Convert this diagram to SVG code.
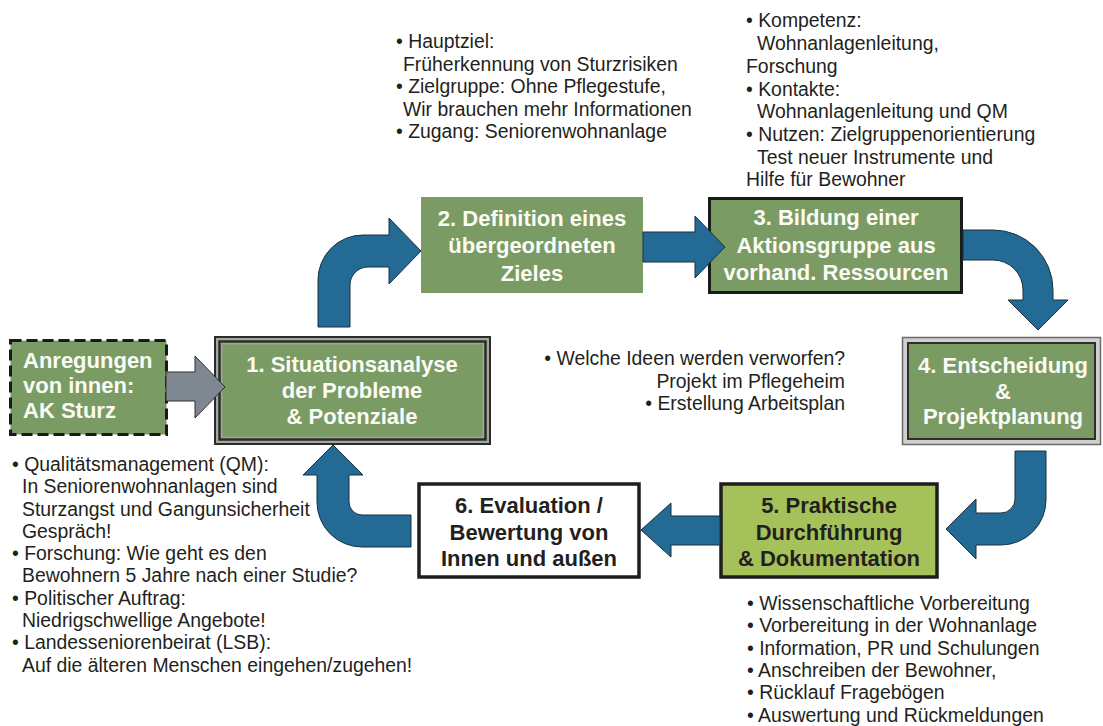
<svg xmlns="http://www.w3.org/2000/svg" width="1103" height="726" viewBox="0 0 1103 726">
  <style>
    .green { fill: #7b9b65; }
    .title { font-family: "Liberation Sans", Arial, sans-serif; font-weight: bold; font-size: 22px; text-anchor: middle; }
    .light { fill: #fbfbf6; }
    .dark { fill: #231f20; }
    .note { font-family: "Liberation Sans", Arial, sans-serif; font-size: 19.4px; fill: #231f20; }
    .flow { fill: #236b95; stroke: #1b3140; stroke-width: 1; stroke-linejoin: miter; }
    .feed { fill: #7f8890; stroke: #2f2f2f; stroke-width: 1; }
  </style>
  <rect width="1103" height="726" fill="#ffffff"/>

  <!-- External input -->
  <g id="node-anregungen">
    <rect x="10.5" y="340.5" width="156" height="94" class="green" stroke="#1a1a1a" stroke-width="3" stroke-dasharray="11 5"/>
    <text class="title light" style="text-anchor:start"><tspan x="23" y="368">Anregungen</tspan><tspan x="23" y="393">von innen:</tspan><tspan x="23" y="418">AK Sturz</tspan></text>
  </g>

  <!-- Step 1: compound frame -->
  <g id="node-1">
    <rect x="215" y="337" width="275" height="107" fill="#a3a89d" stroke="#2b2b2b" stroke-width="2"/>
    <rect x="219.5" y="341.5" width="266" height="98" fill="none" stroke="#2b2b2b" stroke-width="2.5"/>
    <rect x="222" y="344" width="261" height="93" class="green" stroke="#9aa58e" stroke-width="1"/>
    <text class="title light"><tspan x="352" y="372">1. Situationsanalyse</tspan><tspan x="352" y="398">der Probleme</tspan><tspan x="352" y="424">&amp; Potenziale</tspan></text>
  </g>

  <!-- Step 2 -->
  <g id="node-2">
    <rect x="421" y="197" width="222" height="96" class="green"/>
    <text class="title light"><tspan x="532" y="226">2. Definition eines</tspan><tspan x="532" y="253">übergeordneten</tspan><tspan x="532" y="281">Zieles</tspan></text>
  </g>

  <!-- Step 3 -->
  <g id="node-3">
    <rect x="709.5" y="198.5" width="252" height="94" class="green" stroke="#1a1a1a" stroke-width="3"/>
    <text class="title light"><tspan x="836" y="225">3. Bildung einer</tspan><tspan x="836" y="253">Aktionsgruppe aus</tspan><tspan x="836" y="280">vorhand. Ressourcen</tspan></text>
  </g>

  <!-- Step 4: grey double frame -->
  <g id="node-4">
    <rect x="902.5" y="337.5" width="198" height="107" fill="#cfcfcf" stroke="#6a6a6a" stroke-width="1.5"/>
    <rect x="908" y="343" width="187" height="96" class="green" stroke="#2e2e2e" stroke-width="2"/>
    <text class="title light"><tspan x="1003" y="373">4. Entscheidung</tspan><tspan x="1003" y="399">&amp;</tspan><tspan x="1003" y="424">Projektplanung</tspan></text>
  </g>

  <!-- Step 5 -->
  <g id="node-5">
    <rect x="721" y="484" width="216" height="93" fill="#a5c25a" stroke="#1e1e1e" stroke-width="3.5"/>
    <text class="title dark"><tspan x="829" y="513">5. Praktische</tspan><tspan x="829" y="540">Durchführung</tspan><tspan x="829" y="566">&amp; Dokumentation</tspan></text>
  </g>

  <!-- Step 6 -->
  <g id="node-6">
    <rect x="419" y="484" width="220" height="93" fill="#ffffff" stroke="#1e1e1e" stroke-width="3.5"/>
    <text class="title dark"><tspan x="529" y="513">6. Evaluation /</tspan><tspan x="529" y="540">Bewertung von</tspan><tspan x="529" y="566">Innen und außen</tspan></text>
  </g>

  <!-- Block arrows of the cycle -->
  <g id="connectors">
    <path class="feed" d="M166,372 L195,372 L195,356 L225,387 L195,418 L195,401 L166,401 Z"/>
    <path class="flow" d="M318,327 L318,280 A45,45 0 0 1 363,235 L389,235 L389,218 L421,251 L389,284 L389,267 L368,267 A18,18 0 0 0 350,285 L350,327 Z"/>
    <path class="flow" d="M643,232 L695,232 L695,216 L725,247 L695,278 L695,262 L643,262 Z"/>
    <path class="flow" d="M963,230 L993,230 A60,60 0 0 1 1053,290 L1053,300 L1068,300 L1038,330 L1008,300 L1023,300 L1023,290 A30,30 0 0 0 993,260 L963,260 Z"/>
    <path class="flow" d="M1015,451 L1046,451 L1046,500 A45,45 0 0 1 1001,545 L976,545 L976,559 L946,529 L976,499 L976,513 L1001,513 A14,14 0 0 0 1015,499 Z"/>
    <path class="flow" d="M720,516 L671,516 L671,503 L641,530 L671,557 L671,545 L720,545 Z"/>
    <path class="flow" d="M411,515 L411,547 L362,547 A45,45 0 0 1 317,502 L317,475 L303,475 L333,445 L363,475 L349,475 L349,502 A13,13 0 0 0 362,515 Z"/>
  </g>

  <!-- Annotations -->
  <g id="notes-goal">
    <text class="note"><tspan x="396" y="48">• Hauptziel:</tspan><tspan x="403" y="70.5">Früherkennung von Sturzrisiken</tspan><tspan x="396" y="93">• Zielgruppe: Ohne Pflegestufe,</tspan><tspan x="403" y="115.5">Wir brauchen mehr Informationen</tspan><tspan x="396" y="138">• Zugang: Seniorenwohnanlage</tspan></text>
  </g>
  <g id="notes-group">
    <text class="note"><tspan x="746" y="27">• Kompetenz:</tspan><tspan x="757" y="50">Wohnanlagenleitung,</tspan><tspan x="746" y="73">Forschung</tspan><tspan x="746" y="96">• Kontakte:</tspan><tspan x="757" y="118">Wohnanlagenleitung und QM</tspan><tspan x="746" y="141">• Nutzen: Zielgruppenorientierung</tspan><tspan x="757" y="164">Test neuer Instrumente und</tspan><tspan x="746" y="186">Hilfe für Bewohner</tspan></text>
  </g>
  <g id="notes-decision">
    <text class="note" text-anchor="end"><tspan x="845" y="365">• Welche Ideen werden verworfen?</tspan><tspan x="845" y="388">Projekt im Pflegeheim</tspan><tspan x="845" y="410">• Erstellung Arbeitsplan</tspan></text>
  </g>
  <g id="notes-analysis">
    <text class="note"><tspan x="12" y="471">• Qualitätsmanagement (QM):</tspan><tspan x="22" y="493">In Seniorenwohnanlagen sind</tspan><tspan x="22" y="516">Sturzangst und Gangunsicherheit</tspan><tspan x="22" y="538">Gespräch!</tspan><tspan x="12" y="560">• Forschung: Wie geht es den</tspan><tspan x="22" y="582">Bewohnern 5 Jahre nach einer Studie?</tspan><tspan x="12" y="605">• Politischer Auftrag:</tspan><tspan x="22" y="627">Niedrigschwellige Angebote!</tspan><tspan x="12" y="649">• Landesseniorenbeirat (LSB):</tspan><tspan x="22" y="672">Auf die älteren Menschen eingehen/zugehen!</tspan></text>
  </g>
  <g id="notes-practice">
    <text class="note"><tspan x="747" y="610">• Wissenschaftliche Vorbereitung</tspan><tspan x="747" y="632">• Vorbereitung in der Wohnanlage</tspan><tspan x="747" y="655">• Information, PR und Schulungen</tspan><tspan x="747" y="677">• Anschreiben der Bewohner,</tspan><tspan x="747" y="699">• Rücklauf Fragebögen</tspan><tspan x="747" y="722">• Auswertung und Rückmeldungen</tspan></text>
  </g>
</svg>
